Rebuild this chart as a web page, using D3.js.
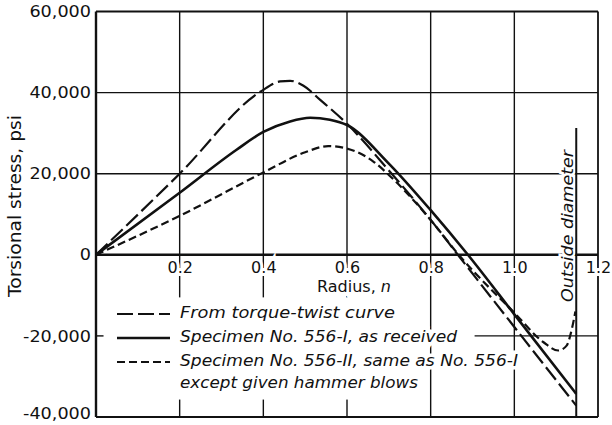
<!DOCTYPE html>
<html><head><meta charset="utf-8">
<script src="https://cdn.jsdelivr.net/npm/d3@7"></script>
<style>body{margin:0;background:#fff}svg{display:block}</style>
</head><body>
<svg id="c" width="612" height="425"></svg>
<script>
// ---------- data ----------
const xTickValues = [0.2, 0.4, 0.6, 0.8, 1.0, 1.2];
const xTickLabels = ["0.2", "0.4", "0.6", "0.8", "1.0", "1.2"];
const yTickValues = [60000, 40000, 20000, 0, -20000, -40000];
const yTickLabels = ["60,000", "40,000", "20,000", "0", "-20,000", "-40,000"];
const seriesNames = ["From torque-twist curve", "Specimen No. 556-I, as received", "Specimen No. 556-II, same as No. 556-I"];
const legendExtraLine = "except given hammer blows";
const xTitle = "Radius, ";
const xTitleVar = "n";
const yTitle = "Torsional stress, psi";
const outsideLabel = "Outside diameter";

// From torque-twist curve (long dash)
const torqueR = [0, 0.2, 0.394, 0.44, 0.464, 0.496, 0.536, 0.6, 0.7, 0.8, 0.865, 1.0, 1.148];
const torqueV = [0, 20000, 40300, 42750, 42900, 41700, 38200, 32300, 20800, 8600, 0, -17800, -37200];
// Specimen 556-I, as received (solid)
const specIR = [0, 0.2, 0.336, 0.4, 0.464, 0.512, 0.559, 0.6, 0.7, 0.8, 0.889, 1.0, 1.148];
const specIV = [0, 15300, 25900, 30300, 32900, 33800, 33300, 32000, 22500, 11000, 0, -14700, -34300];
// Specimen 556-II, hammer blows (short dash)
const specIIR = [0, 0.2, 0.4, 0.5, 0.555, 0.6, 0.663, 0.707, 0.8, 0.867, 1.0, 1.069, 1.105, 1.125, 1.137, 1.146];
const specIIV = [0, 9600, 20300, 25300, 26800, 26200, 23000, 19000, 8600, 0, -14300, -21500, -23600, -22400, -18500, -14000];

const outsideDiameterR = 1.148;
const outsideDiameterTopV = 31300;

// ---------- drawing ----------
const svg = d3.select("#c");
const x = d3.scaleLinear().domain([0, 1.2]).range([96, 598]);
const y = d3.scaleLinear().domain([-40000, 60000]).range([417, 11.5]);
const ink = "#111";
const FONT = "'DejaVu Sans', 'Liberation Sans', sans-serif";

const grid = svg.append("g").attr("stroke", ink).attr("fill", "none");
// vertical grid lines
grid.selectAll("line.v").data(xTickValues.filter(d => d < 1.2)).join("line")
  .attr("x1", d => x(d)).attr("x2", d => x(d))
  .attr("y1", y(60000)).attr("y2", y(-40000)).attr("stroke-width", 1.4);
// horizontal grid lines
grid.selectAll("line.h").data([40000, 20000]).join("line")
  .attr("x1", x(0)).attr("x2", x(1.2))
  .attr("y1", d => y(d)).attr("y2", d => y(d)).attr("stroke-width", 1.4);

// legend background (masks grid in legend area)
svg.append("rect")
  .attr("x", x(0) + 4).attr("y", y(-10500))
  .attr("width", x(0.8) - 4 - (x(0) + 4)).attr("height", y(-35700) - y(-10500))
  .attr("fill", "#fff");

// partial -20,000 line
svg.append("line").attr("stroke", ink).attr("stroke-width", 1.4)
  .attr("x1", x(0)).attr("x2", x(0.018)).attr("y1", y(-20000)).attr("y2", y(-20000));
svg.append("line").attr("stroke", ink).attr("stroke-width", 1.4)
  .attr("x1", x(0.905)).attr("x2", x(1.2)).attr("y1", y(-20000)).attr("y2", y(-20000));

// axis title (x) with halo so the grid breaks around it
const xt = svg.append("text").attr("x", 354).attr("y", 292).attr("text-anchor", "middle")
  .attr("font-family", FONT).attr("font-size", 16).attr("fill", ink)
  .attr("stroke", "#fff").attr("stroke-width", 8).attr("paint-order", "stroke");
xt.append("tspan").text(xTitle);
xt.append("tspan").attr("font-style", "italic").text(xTitleVar);

// frame
const frame = svg.append("g").attr("stroke", ink).attr("fill", "none");
frame.append("line").attr("x1", x(0)).attr("x2", x(1.2)).attr("y1", y(60000)).attr("y2", y(60000)).attr("stroke-width", 1.8);
frame.append("line").attr("x1", x(0)).attr("x2", x(1.2)).attr("y1", y(-40000)).attr("y2", y(-40000)).attr("stroke-width", 1.8);
frame.append("line").attr("x1", x(1.2)).attr("x2", x(1.2)).attr("y1", y(60000)).attr("y2", y(-40000)).attr("stroke-width", 1.8);
frame.append("line").attr("x1", x(0)).attr("x2", x(0)).attr("y1", y(60000)).attr("y2", y(-40000)).attr("stroke-width", 2.4);
frame.append("line").attr("x1", x(0)).attr("x2", x(1.2)).attr("y1", y(0)).attr("y2", y(0)).attr("stroke-width", 2.6);

// x axis tick labels (below the zero line, inside the plot)
const xAxis = d3.axisBottom(x).tickValues(xTickValues)
  .tickFormat((d, i) => xTickLabels[i]).tickSize(0).tickPadding(7);
const gx = svg.append("g").attr("transform", `translate(0,${y(0)})`).call(xAxis);
gx.select(".domain").remove();
gx.selectAll("text").attr("font-family", FONT).attr("font-size", 16).attr("fill", ink)
  .attr("stroke", "#fff").attr("stroke-width", 6).attr("paint-order", "stroke");

// y axis tick labels
const yAxis = d3.axisLeft(y).tickValues(yTickValues)
  .tickFormat((d, i) => yTickLabels[i]).tickSize(0).tickPadding(5);
const gy = svg.append("g").attr("transform", `translate(${x(0)},0)`).call(yAxis);
gy.select(".domain").remove();
gy.selectAll("text").attr("font-family", FONT).attr("font-size", 16).attr("fill", ink)
  .attr("dy", d => d === -40000 ? "0.12em" : "0.32em")
  .each(function () {
    const len = this.getComputedTextLength();
    d3.select(this).attr("textLength", len * 1.1).attr("lengthAdjust", "spacingAndGlyphs");
  });

svg.append("text").attr("transform", "translate(21,206) rotate(-90)")
  .attr("text-anchor", "middle").attr("font-family", FONT).attr("font-size", 17).attr("fill", ink)
  .attr("textLength", 182).attr("lengthAdjust", "spacingAndGlyphs").text(yTitle);

// legend
const dashes = ["16,5", null, "8,4"];
const widths = [2.2, 2.6, 2.2];
const legendRows = [318, 342, 366];
const legendLens = [215, 277, 338];
seriesNames.forEach((name, i) => {
  svg.append("line").attr("x1", 117).attr("x2", 170)
    .attr("y1", legendRows[i] - 4).attr("y2", legendRows[i] - 4)
    .attr("stroke", ink).attr("stroke-width", widths[i])
    .attr("stroke-dasharray", dashes[i]);
  svg.append("text").attr("x", 180).attr("y", legendRows[i])
    .attr("font-family", FONT).attr("font-style", "italic").attr("font-size", 16.5).attr("fill", ink)
    .attr("stroke", "#fff").attr("stroke-width", 7).attr("paint-order", "stroke")
    .attr("textLength", legendLens[i]).attr("lengthAdjust", "spacingAndGlyphs")
    .text(name);
});
svg.append("text").attr("x", 180).attr("y", 388)
  .attr("font-family", FONT).attr("font-style", "italic").attr("font-size", 16.5).attr("fill", ink)
  .attr("stroke", "#fff").attr("stroke-width", 7).attr("paint-order", "stroke")
  .attr("textLength", 238).attr("lengthAdjust", "spacingAndGlyphs")
  .text(legendExtraLine);

// outside diameter label & line
svg.append("text").attr("transform", `translate(${x(outsideDiameterR) - 3},226) rotate(-90)`)
  .attr("text-anchor", "middle").attr("font-family", FONT).attr("font-style", "italic")
  .attr("font-size", 16.5).attr("fill", ink)
  .attr("stroke", "#fff").attr("stroke-width", 5).attr("paint-order", "stroke")
  .attr("textLength", 152).attr("lengthAdjust", "spacingAndGlyphs")
  .text(outsideLabel);
svg.append("line").attr("x1", x(outsideDiameterR)).attr("x2", x(outsideDiameterR))
  .attr("y1", y(outsideDiameterTopV)).attr("y2", y(-40000))
  .attr("stroke", ink).attr("stroke-width", 2);

// curves
const line = d3.line().x(d => x(d[0])).y(d => y(d[1])).curve(d3.curveMonotoneX);
const series = [
  d3.zip(torqueR, torqueV),
  d3.zip(specIR, specIV),
  d3.zip(specIIR, specIIV)
];
series.forEach((pts, i) => {
  svg.append("path").attr("d", line(pts)).attr("fill", "none")
    .attr("stroke", ink).attr("stroke-width", widths[i])
    .attr("stroke-dasharray", dashes[i]);
});
</script>
</body></html>
